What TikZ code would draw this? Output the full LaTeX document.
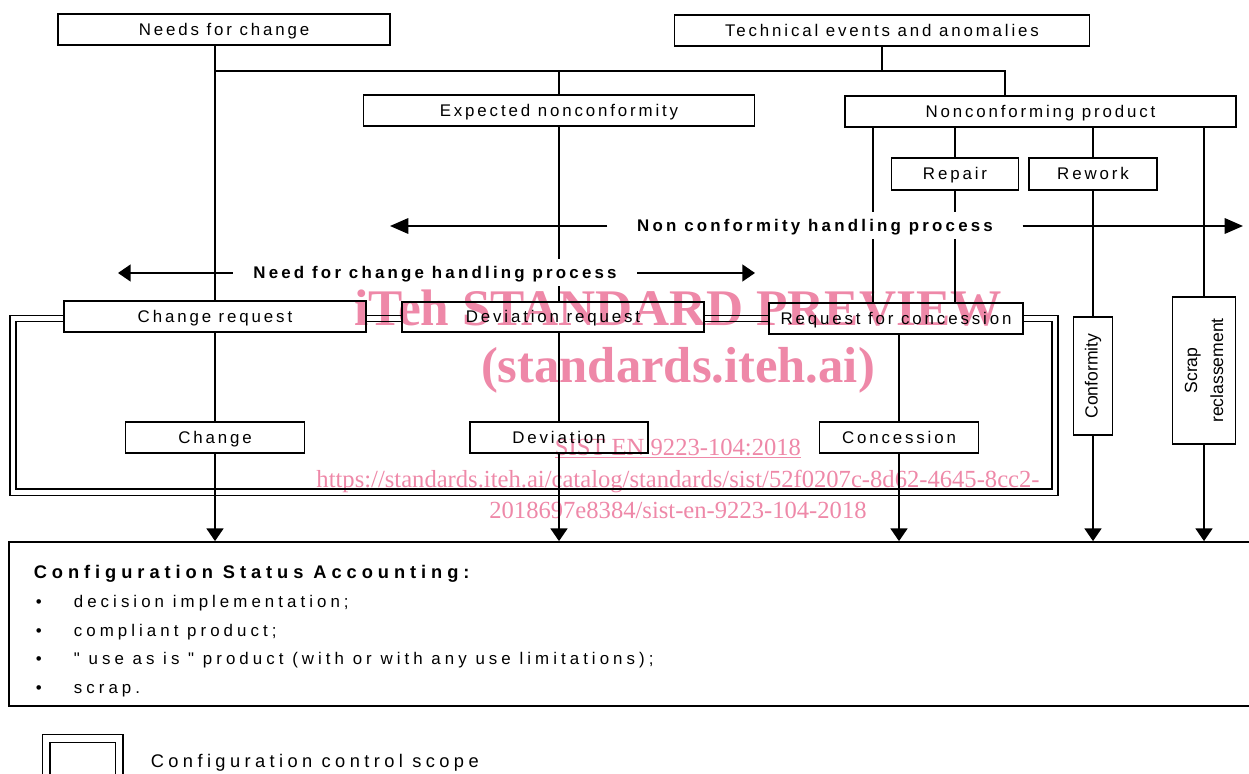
\documentclass[tikz,border=0pt]{standalone}
\usepackage{fontspec}
\setmainfont{Liberation Sans}
\newfontfamily\spacedfont{Liberation Sans}[LetterSpace=17]
\newfontfamily\procfont{Liberation Sans}[LetterSpace=19]
\newfontfamily\widefont{Liberation Sans}[LetterSpace=24]
\newfontfamily\headfont{Liberation Sans}[LetterSpace=27]
\newfontfamily\stampfont{Liberation Serif}
\usepackage{tikz}
\usetikzlibrary{arrows.meta,positioning}

\definecolor{stamppink}{RGB}{238,136,168}

\begin{document}
\begin{tikzpicture}[
    x=0.025cm, y=-0.025cm,
    line width=1.25pt,
    box/.style={rectangle, draw, fill=white, inner sep=0pt, align=center,
                text height=8.8pt, text depth=0.4pt,
                font=\spacedfont\fontsize{12}{14}\selectfont},
    sz/.style 2 args={minimum width=#1*0.025cm, minimum height=#2*0.025cm},
    vbox/.style={rectangle, draw, fill=white, inner sep=0pt, align=center, rotate=90,
                 font=\fontsize{12.5}{18.5}\selectfont},
    proc/.style={fill=white, inner ysep=0pt, minimum height=27*0.025cm,
                 text height=8.8pt, text depth=0.4pt,
                 font=\procfont\bfseries\fontsize{12}{14}\selectfont},
    arr/.style={-{Triangle[length=9pt, width=12pt]}},
    procarr/.style={-{Triangle[length=13pt, width=11pt]}},
    scope/.style={double, double distance=3.4pt, line width=1pt},
    item/.style={anchor=base west, inner sep=0pt, font=\widefont\fontsize{12}{14}\selectfont},
    stamp/.style={text=stamppink, inner sep=0pt, anchor=base},
]
\useasboundingbox (0,0) rectangle (1249,774);

% configuration control scope
\draw[scope] (13,318.3) rectangle (1055,492.2);

% Sources
\node[box, sz={332}{31}] (needs) at (224,29.5) {Needs for change};
\node[box, sz={415}{31}] (tech) at (882,30.5) {Technical events and anomalies};
\node[box, sz={391}{31}] (expect) at (559,110.5) {Expected nonconformity};
\node[box, sz={391}{31}] (noncp) at (1040.5,111.5) {Nonconforming product};
\node[box, sz={127}{32}] (repair) at (955,174) {Repair};
\node[box, sz={128}{32}] (rework) at (1093,174) {Rework};

% Requests
\node[box, sz={302}{31}] (crq) at (215,316.5) {Change request};
\node[box, sz={302}{30}] (devreq) at (553,317) {Deviation request};
\node[box, sz={254}{31}] (rfc) at (896,318.5) {Request for concession};

% Decisions
\node[box, sz={179}{31}] (chg) at (215,437.5) {Change};
\node[box, sz={178}{31}] (dev) at (559,437.5) {Deviation};
\node[box, sz={159}{31}] (conc) at (899,437.5) {Concession};
\node[vbox, sz={118}{39}] (conf) at (1093,376) {Conformity};
\node[vbox, sz={147}{63}] (scrap) at (1204,370.5) {Scrap\\reclassement};

% Status accounting
\node[rectangle, draw, fill=white, sz={1260}{164}] (csa) at (639,624) {};
\node[item, font=\headfont\bfseries\fontsize{13}{15}\selectfont] (csahead) at (33,578) {Configuration Status Accounting:};
\foreach \y/\t [count=\i] in {607/decision implementation;, 636/compliant product;,
    664/{" use as is " product (with or with any use limitations);}, 693/scrap.} {
  \node[item] (bul\i) at (35,\y) {\textbullet};
  \node[item] (it\i) at (73,\y) {\t};
}

% Tree lines
\coordinate (jr) at (1005,71);
\coordinate (nc1) at (873,0);
\draw (needs.south -| crq) -- (crq.north);
\draw (crq |- jr) -- (jr) -- (jr |- noncp.north);
\draw (tech) -- (tech |- jr);
\draw (expect |- jr) -- (expect);
\draw (expect) -- (expect |- devreq.north);
\draw (devreq.south -| dev) -- (dev);
\draw (noncp.south -| nc1) -- (rfc.north -| nc1);
\draw (noncp.south -| repair) -- (repair);
\draw (repair) -- (repair |- rfc.north);
\draw (noncp.south -| rework) -- (rework);
\draw (rework) -- (conf);
\draw (noncp.south -| scrap) -- (scrap);
\draw (rfc.south -| conc) -- (conc);
\draw (crq) -- (chg);

% Handling processes
\coordinate (ncL) at (390,226);
\coordinate (ncR) at (1243,226);
\coordinate (nfL) at (118,273);
\coordinate (nfR) at (755,273);
\node[proc, inner xsep=29*0.025cm] (ncproc) at (815,226) {Non conformity handling process};
\node[proc, inner xsep=20*0.025cm] (nfproc) at (435,273) {Need for change handling process};
\draw[procarr] (ncproc) -- (ncL);
\draw[procarr] (ncproc) -- (ncR);
\draw[arr] (nfproc) -- (nfL);
\draw[arr] (nfproc) -- (nfR);

% Into status accounting
\foreach \n in {chg, dev, conc, conf, scrap}
  \draw[arr] (\n) -- (\n |- csa.north);

% Legend
\node[draw, double, double distance=4.4pt, line width=1pt, sz={73}{52}] (legbox) at (82.5,764.5) {};
\node[item, font=\widefont\fontsize{13}{15}\selectfont] (legtxt) at (150,767) {Configuration control scope};

% Stamp
\begin{scope}[blend mode=multiply]
\node[stamp, font=\stampfont\bfseries\fontsize{36.5}{37}\selectfont] (wm1) at (678,325) {iTeh STANDARD PREVIEW};
\node[stamp, font=\stampfont\bfseries\fontsize{36}{36}\selectfont] (wm2) at (678,382) {(standards.iteh.ai)};
\node[stamp, font=\stampfont\fontsize{17.5}{18}\selectfont] (wm3) at (678,455) {\underline{SIST EN 9223-104:2018}};
\node[stamp, font=\stampfont\fontsize{17.5}{18}\selectfont] (wm4) at (678,487) {https://standards.iteh.ai/catalog/standards/sist/52f0207c-8d62-4645-8cc2-};
\node[stamp, font=\stampfont\fontsize{17.5}{18}\selectfont] (wm5) at (678,518) {2018697e8384/sist-en-9223-104-2018};
\end{scope}
\end{tikzpicture}
\end{document}
